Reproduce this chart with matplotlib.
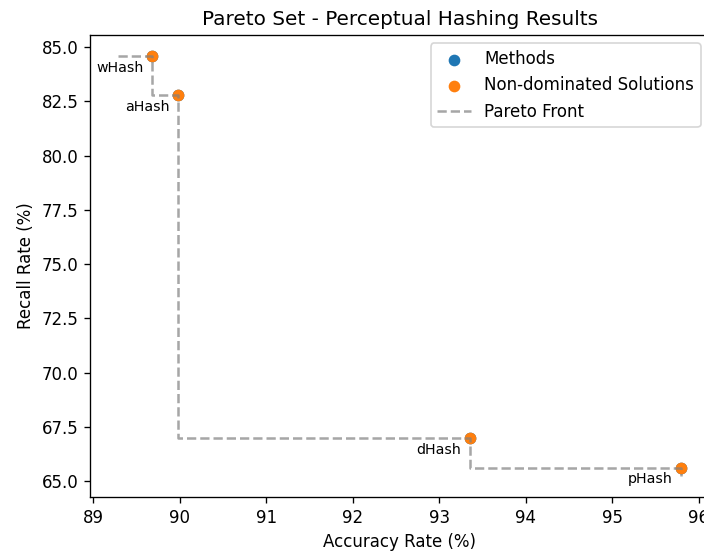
import matplotlib
matplotlib.use('Agg')
import matplotlib.pyplot as plt

# accuracy / recall for each hashing method
methods = ['wHash', 'aHash', 'dHash', 'pHash']
accuracy = [89.68, 89.98, 93.35, 95.79]
recall = [84.59, 82.79, 66.98, 65.63]

# pareto front staircase (with its lead-in and tail)
front_acc = [89.29, 89.68, 89.98, 93.35, 95.79, 95.79]
front_rec = [84.59, 84.59, 82.79, 66.98, 65.63, 65.24]

fig = plt.figure(figsize=(704/120, 551/120), dpi=120)
ax = fig.add_axes([0.128, 0.098, 0.879, 0.8385])

ax.scatter(accuracy, recall, label='Methods')
ax.scatter(accuracy, recall, label='Non-dominated Solutions')
ax.step(front_acc, front_rec, where='pre', ls='--', color='gray', alpha=0.7,
        label='Pareto Front')

for name, a, r in zip(methods, accuracy, recall):
    ax.annotate(name, (a, r), xytext=(-5, -7), textcoords='offset points',
                ha='right', va='center', fontsize=8.5)

ax.set_xlabel('Accuracy Rate (%)')
ax.set_ylabel('Recall Rate (%)')
ax.set_title('Pareto Set - Perceptual Hashing Results')
ax.legend(loc='upper right')
fig.savefig('out.png', dpi=120)
